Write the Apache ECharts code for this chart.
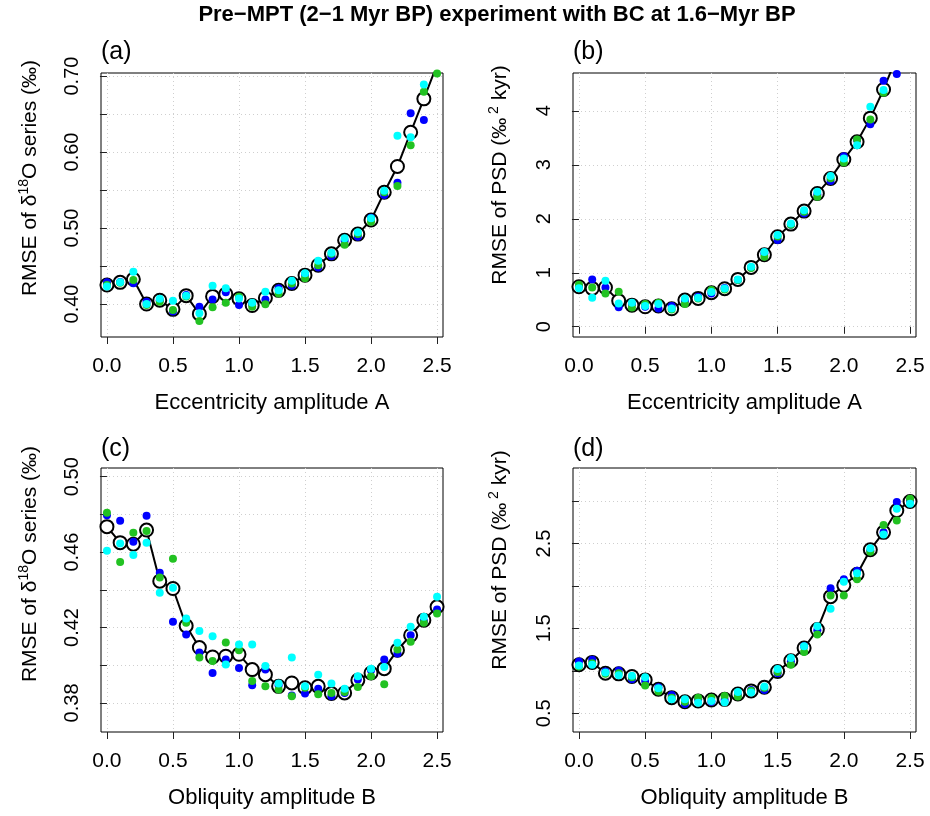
<!DOCTYPE html>
<html><head><meta charset="utf-8">
<script src="https://cdn.jsdelivr.net/npm/echarts@6/dist/echarts.min.js"></script>
<style>html,body{margin:0;padding:0;background:#fff}#c{width:930px;height:816px}</style>
</head><body><div id="c"></div>
<script>
// ---- data ----
const xValues = [0.0,0.1,0.2,0.3,0.4,0.5,0.6,0.7,0.8,0.9,1.0,1.1,1.2,1.3,1.4,1.5,1.6,1.7,1.8,1.9,2.0,2.1,2.2,2.3,2.4,2.5];
const xTicks = [0.0,0.5,1.0,1.5,2.0,2.5];

// (a) RMSE of d18O series vs eccentricity amplitude A
const aMean  = [0.425,0.4285,0.4325,0.400,0.405,0.393,0.411,0.387,0.410,0.413,0.407,0.398,0.408,0.418,0.427,0.438,0.451,0.466,0.484,0.492,0.5105,0.547,0.581,0.626,0.670,0.715];
const aBlue  = [0.4285,0.429,0.4272,0.403,0.405,0.390,0.412,0.3965,0.4061,0.4154,0.3987,0.400,0.4061,0.4206,0.424,0.439,0.4482,0.463,0.4833,0.4886,0.5135,0.5434,0.5596,0.651,0.6421,0.712];
const aGreen = [0.425,0.428,0.4315,0.3987,0.403,0.392,0.410,0.3776,0.3956,0.4018,0.4096,0.3965,0.3996,0.414,0.427,0.4338,0.451,0.466,0.478,0.492,0.5083,0.547,0.5553,0.609,0.6794,0.7035];
const aCyan  = [0.423,0.4285,0.4425,0.400,0.407,0.4044,0.411,0.3877,0.4241,0.4206,0.4074,0.4018,0.4162,0.418,0.4307,0.4404,0.457,0.4675,0.4864,0.4943,0.5127,0.549,0.6215,0.6193,0.689,0.730];
const aTicks = [0.40,0.45,0.50,0.55,0.60,0.65,0.70];
const aLabels = [0.40,0.50,0.60,0.70];

// (b) RMSE of PSD vs eccentricity amplitude A
const bMean  = [0.741,0.71,0.728,0.48,0.40,0.37,0.383,0.333,0.494,0.525,0.63,0.704,0.877,1.099,1.333,1.667,1.901,2.142,2.469,2.747,3.099,3.426,3.864,4.395,5.0,5.6];
const bBlue  = [0.75,0.877,0.728,0.36,0.42,0.37,0.34,0.383,0.48,0.556,0.617,0.716,0.865,1.099,1.358,1.605,1.89,2.099,2.451,2.698,3.16,3.457,3.753,4.556,4.68,5.6];
const bGreen = [0.78,0.728,0.617,0.648,0.358,0.42,0.444,0.32,0.42,0.525,0.679,0.69,0.865,1.087,1.296,1.67,1.89,2.13,2.407,2.75,3.043,3.469,3.84,4.333,5.1,5.5];
const bCyan  = [0.715,0.537,0.852,0.432,0.444,0.383,0.42,0.34,0.525,0.537,0.642,0.71,0.877,1.111,1.383,1.698,1.914,2.16,2.5,2.79,3.117,3.364,4.074,4.383,5.2,5.7];
const bTicks = [0,1,2,3,4];
const bLabels = [0,1,2,3,4];

// (c) RMSE of d18O series vs obliquity amplitude B
const cMean  = [0.4735,0.465,0.4642,0.4717,0.4446,0.4407,0.4209,0.4094,0.4044,0.4048,0.4058,0.3977,0.395,0.3888,0.3906,0.3881,0.3888,0.3850,0.3853,0.392,0.3959,0.3982,0.408,0.4159,0.4239,0.431];
const cBlue  = [0.4796,0.4766,0.4655,0.4793,0.449,0.423,0.4163,0.4067,0.3959,0.403,0.3986,0.3894,0.3977,0.3894,0.3839,0.385,0.3876,0.3835,0.3853,0.3924,0.3973,0.403,0.4062,0.4159,0.4235,0.4296];
const cGreen = [0.4809,0.4547,0.4703,0.4712,0.4465,0.4565,0.4225,0.4041,0.4023,0.412,0.408,0.3917,0.3889,0.3871,0.3835,0.3881,0.3846,0.3853,0.3858,0.3885,0.3942,0.3899,0.4083,0.4124,0.4225,0.4274];
const cCyan  = [0.4607,0.4646,0.4584,0.465,0.4384,0.4411,0.4248,0.4182,0.4154,0.4004,0.411,0.411,0.3996,0.3903,0.4041,0.3889,0.395,0.3903,0.3876,0.3942,0.3982,0.3991,0.4119,0.4204,0.4257,0.4363];
const cTicks = [0.38,0.40,0.42,0.44,0.46,0.48,0.50];
const cLabels = [0.38,0.42,0.46,0.50];

// (d) RMSE of PSD vs obliquity amplitude B
const dMean  = [1.071,1.099,0.972,0.964,0.933,0.893,0.783,0.684,0.636,0.644,0.656,0.664,0.727,0.763,0.806,0.992,1.119,1.269,1.486,1.874,2.008,2.138,2.427,2.632,2.889,2.996];
const dBlue  = [1.111,1.130,0.992,1.004,0.901,0.881,0.806,0.715,0.609,0.664,0.636,0.656,0.715,0.775,0.775,0.972,1.111,1.289,1.478,1.972,2.079,2.178,2.415,2.632,2.988,3.008];
const dGreen = [1.051,1.09,0.964,0.972,0.925,0.826,0.755,0.684,0.636,0.684,0.684,0.704,0.696,0.765,0.80,0.985,1.071,1.221,1.427,1.889,1.889,2.079,2.403,2.719,2.771,3.028];
const dCyan  = [1.063,1.071,0.980,0.949,0.941,0.925,0.794,0.664,0.664,0.625,0.644,0.629,0.751,0.743,0.814,1.020,1.150,1.289,1.526,1.731,2.051,2.15,2.443,2.605,2.909,2.968];
const dTicks = [0.5,1.0,1.5,2.0,2.5,3.0];
const dLabels = [0.5,1.5,2.5];

const mainTitle = 'Pre\u2212MPT (2\u22121 Myr BP) experiment with BC at 1.6\u2212Myr BP';
const panelTags = ['(a)','(b)','(c)','(d)'];
const xNames = ['Eccentricity amplitude A','Eccentricity amplitude A','Obliquity amplitude B','Obliquity amplitude B'];
const yNameD18O = '{n|RMSE of \u03b4}{s|18}{n|O series (\u2030)}';
const yNamePSD = '{n|RMSE of PSD (\u2030}{s| 2}{n| kyr)}';
const yNames = [yNameD18O, yNamePSD, yNameD18O, yNamePSD];

// ---- chart ----
const FONT = '"Liberation Sans", Arial, Helvetica, sans-serif';
const grids = [
  {left:101, top:73, width:342, height:264},
  {left:573, top:73, width:343, height:264},
  {left:101, top:468, width:342, height:264},
  {left:573, top:468, width:343, height:264}
];
const panels = [
  {mean:aMean, blue:aBlue, green:aGreen, cyan:aCyan, yMin:0.3566, yMax:0.704, ticks:aTicks, labels:aLabels, dec:2},
  {mean:bMean, blue:bBlue, green:bGreen, cyan:bCyan, yMin:-0.19, yMax:4.70, ticks:bTicks, labels:bLabels, dec:0},
  {mean:cMean, blue:cBlue, green:cGreen, cyan:cCyan, yMin:0.3646, yMax:0.5046, ticks:cTicks, labels:cLabels, dec:2},
  {mean:dMean, blue:dBlue, green:dGreen, cyan:dCyan, yMin:0.279, yMax:3.39, ticks:dTicks, labels:dLabels, dec:1}
];
const pairs = arr => xValues.map((x,i)=>[x, arr[i]]);
const gridLine = {show:true, lineStyle:{color:'#cfcfcf', width:1, type:[1,3]}};

const option = {
  animation:false,
  backgroundColor:'#fff',
  grid: grids.map(g => Object.assign({show:true, borderColor:'#000', borderWidth:1, backgroundColor:'transparent'}, g)),
  xAxis: grids.map((g,i) => ({
    gridIndex:i, type:'value', min:-0.045, max:2.545,
    axisLine:{show:false},
    axisTick:{show:true, inside:false, length:7, customValues:xTicks, lineStyle:{color:'#222', width:1}},
    axisLabel:{customValues:xTicks, formatter:v=>v.toFixed(1), fontSize:21, color:'#000', fontFamily:FONT, margin:19},
    splitLine:gridLine,
    name:xNames[i], nameLocation:'middle', nameGap:55,
    nameTextStyle:{fontSize:22, color:'#000', fontFamily:FONT}
  })),
  yAxis: panels.map((p,i) => ({
    gridIndex:i, type:'value', min:p.yMin, max:p.yMax,
    axisLine:{show:false},
    axisTick:{show:true, inside:false, length:7, customValues:p.ticks, lineStyle:{color:'#222', width:1}},
    axisLabel:{customValues:p.labels, formatter:v=>v.toFixed(p.dec), rotate:90, fontSize:20, color:'#000', fontFamily:FONT, margin:19},
    splitLine:gridLine
  })),
  series: [],
  graphic: [
    {type:'text', x:497, y:15, style:{text:mainTitle, fontSize:22, fontWeight:'bold', fontFamily:FONT, fill:'#000', align:'center', verticalAlign:'middle'}},
  ]
};
const tagPos = [[101,52],[573,52],[101,449],[573,449]];
panelTags.forEach((t,i)=>{
  option.graphic.push({type:'text', x:tagPos[i][0], y:tagPos[i][1], style:{text:t, fontSize:25, fontFamily:FONT, fill:'#000', align:'left', verticalAlign:'middle'}});
});
// y-axis titles (rotated), positioned as in the reference
const yNamePos = [[30,178],[500,175],[30,564],[500,560]];
yNames.forEach((t,i)=>{
  option.graphic.push({type:'text', x:yNamePos[i][0], y:yNamePos[i][1], rotation:Math.PI/2,
    style:{text:t, fontFamily:FONT, fill:'#000', align:'center', verticalAlign:'middle',
      rich:{ n:{fontSize:21, fontFamily:FONT, fill:'#000', lineHeight:25},
             s:{fontSize:14, fontFamily:FONT, fill:'#000', lineHeight:14, verticalAlign:'top'} }}});
});
panels.forEach((p,i)=>{
  option.series.push({type:'line', xAxisIndex:i, yAxisIndex:i, data:pairs(p.mean), clip:true,
    symbol:'circle', symbolSize:13, itemStyle:{color:'#fff', borderColor:'#000', borderWidth:2},
    lineStyle:{color:'#000', width:2}, z:2, silent:true});
  [['#0000ff',p.blue,3],['#22c222',p.green,4],['#00ffff',p.cyan,5]].forEach(([c,arr,z])=>{
    option.series.push({type:'scatter', xAxisIndex:i, yAxisIndex:i, data:pairs(arr), clip:true,
      symbol:'circle', symbolSize:8, itemStyle:{color:c, opacity:1}, z:z, silent:true});
  });
});
const chart = echarts.init(document.getElementById('c'), null, {renderer:'canvas'});
chart.setOption(option);
</script></body></html>
